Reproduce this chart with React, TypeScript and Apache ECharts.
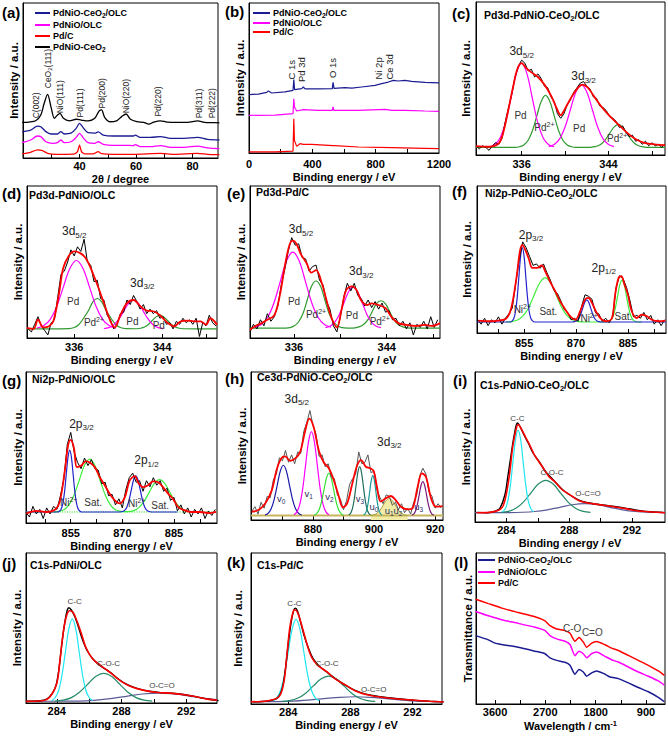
import React, { useEffect, useRef } from 'react';
import * as echarts from 'echarts';

const F = '"Liberation Sans", Arial, Helvetica, sans-serif';

// ---------------- (a) XRD ----------------
const xrdCeOlc = [[19.7,17],[22.7,18],[25.1,20.6],[26.3,20.2],[28.1,17],[29.9,15.5],[32.2,15.5],[33.4,17],[34.6,15.5],[37,16],[38.8,19.1],[40,22.4],[41.2,19.8],[43,16.3],[45.4,16],[46.6,16.8],[48.4,14.8],[51.9,14.2],[55.5,14.2],[59.1,14.2],[59.7,14.8],[61.5,13.3],[65.1,13.3],[68.6,13.8],[72.2,12.7],[77,12.7],[81.8,13.3],[85.3,12],[89.5,11.6]];
const xrdNiOlc = [[19.7,9.9],[22.7,11.6],[25.1,14.2],[26.3,13.8],[28.1,10.5],[30.5,9.5],[32.2,9.9],[33.4,11.6],[34.6,9.9],[37,10.5],[38.8,13.3],[40,15.9],[41.2,13.3],[43,9.9],[45.4,9.5],[46.6,10.5],[48.4,8.8],[51.9,8.2],[55.5,8.2],[59.1,8],[59.7,8.6],[61.5,7.3],[65.1,7.3],[68.6,8],[72.2,6.9],[77,6.9],[81.8,7.7],[85.3,6.5],[89.5,6]];
const xrdPdC = [[19.7,2.6],[22.7,3.7],[25.1,5.2],[26.9,4.7],[28.7,3],[31.7,2.4],[35.2,2.4],[38.2,2.6],[39.3,4.1],[40,8.4],[40.7,4.1],[41.8,2.6],[44.8,2.6],[46.6,4.1],[47.8,2.8],[51.9,2.4],[59.1,2.4],[68.6,3],[73.4,2.4],[81.8,3],[85.3,2.4],[89.5,2.2]];
const xrdCe = [[19.7,23],[22.1,23.2],[24.5,24],[26.3,27.7],[27.5,35.3],[28.7,41],[29.9,33],[31.1,25.6],[32.2,27.7],[33.1,28.8],[34.3,25.6],[36.4,24],[38.8,25],[40.6,24.5],[43,23.9],[45.4,25.6],[46.9,30.3],[47.8,31],[48.9,26.2],[50.7,23.4],[53.1,24],[54.9,26.7],[56.5,28.4],[57.9,25.2],[60.3,23.4],[62.7,23],[64.5,21.9],[66.3,23.2],[68.6,24],[71,23.2],[74.6,23],[78.2,23],[81.8,24],[84.2,23],[87.7,22.8],[89.5,22.6]];
const xrdPeakLabels = ['{r|C(002)}','{r|CeO}{rs|2}{r|(111)}','{r|NiO(111)}','{r|Pd(111)}','{r|Pd(200)}','{r|NiO(220)}','{r|Pd(220)}','{r|Pd(311)}','{r|Pd(222)}'];
const xrdPeakAt = [[24.5,25.6],[29,45],[33.1,28.8],[40.2,26.2],[47.8,32],[56.3,28.8],[67.7,26.7],[82.3,25.6],[86.7,25.6]];

// ---------------- (b) survey ----------------
const svCeOlc = [[0,38.9],[59,39.3],[112,40.4],[122,41.3],[143,40],[227,40.7],[278,41.8],[283,48.9],[288,42.2],[333,42.9],[343,44],[354,42.7],[438,42.7],[526,42.9],[531,47.1],[537,43.1],[606,43.6],[650,43.2],[711,44],[796,45.1],[838,46.2],[859,46.7],[880,47.3],[911,48.4],[943,48],[985,48.4],[1027,47.8],[1111,47.1],[1200,46.7]];
const svNiOlc = [[0,25.1],[164,25.3],[278,26.2],[283,36.2],[287,30.7],[301,28],[343,28.9],[438,28.4],[526,28.4],[531,30.7],[536,28.4],[691,28.4],[859,29.1],[901,28.4],[985,28.4],[1111,28],[1200,27.8]];
const svPdC = [[0,0.7],[164,0.7],[278,1.3],[283,22.9],[287,8.4],[301,4.4],[322,6.2],[343,5.8],[396,5.8],[531,4.9],[541,4.9],[691,4],[901,3.6],[1111,3.1],[1200,2.9]];
const svLabels = ['{r2|C 1s}','{r2|Pd 3d}','{r2|O 1s}','{r2|Ni 2p}','{r2|Ce 3d}'];
const svLabelAt = [[267,49],[334,47.3],[528,50],[821,49],[889,49]];

// ---------------- (c) Pd3d PdNiO-CeO2/OLC ----------------
const cFit = [[331.8,5.8],[332.9,5.4],[333.8,7],[334.2,12],[334.7,27],[335.2,44],[335.6,56],[336,60],[336.4,57],[336.9,54],[337.5,51],[338.1,46],[338.7,39],[339.2,31],[339.6,26],[339.9,29],[340.6,38],[341.2,44],[341.6,46],[342.1,44],[342.7,38],[343.3,32],[343.9,27],[344.6,22],[345.2,18],[345.8,14],[346.6,10],[347.3,8],[348.2,7],[349.2,6.5]];
const cRawStart = 331.8, cRawStep = 0.3;
const cRaw = [6,4,6,5,3,6,8,7,11,22,31,40,51,58,62,60,55,56,51,53,50,45,44,38,35,27,24,27,33,36,41,44,47,48,45,43,38,37,32,31,29,25,24,22,18,19,15,12,13,9,10,7,9,6,8,6,7,5,7];
const cPd1 = [[333,5.4],[333.5,6.7],[334,11],[334.5,20.8],[335,36.6],[335.5,52.9],[336,60],[336.5,52.9],[337,36.6],[337.5,20.8],[338,11],[338.5,6.7],[339,5.4]];
const cPd2 = [[338.5,5.5],[339,6.8],[339.5,10.5],[340,18.3],[340.5,29.9],[341,41.2],[341.5,46],[342,41.2],[342.5,29.9],[343,18.3],[343.5,10.5],[344,6.8],[344.5,5.5]];
const cPdII = [[331.8,5],[335.4,5],[335.8,5.4],[336.2,6.5],[336.6,9.6],[337,16],[337.4,25.6],[337.8,35],[338.2,39],[338.6,35],[339,25.6],[339.4,16],[339.8,9.6],[340.2,6.5],[340.6,5.4],[341,5],[342.1,5],[342.5,5.2],[342.9,5.7],[343.3,7],[343.7,9.9],[344.1,14.1],[344.5,18.2],[344.9,20],[345.3,18.2],[345.7,14.1],[346.1,9.9],[346.5,7],[346.9,5.7],[347.3,5.2],[347.7,5],[349.2,5]];
const cLabels = ['{m|3d}{ms|5/2}','{m|3d}{ms|3/2}','{c|Pd}','{c|Pd}{cu|2+}','{c|Pd}','{c|Pd}{cu|2+}'];
const cLabelAt = [[336,67.7],[341.7,51.6],[335.9,25.8],[338.1,18.3],[341.3,17],[344.8,10.8]];

// ---------------- (d) Pd3d PdNiO/OLC ----------------
const dFit = [[331.7,6.6],[332.3,6],[332.7,12],[333.2,7],[333.7,7.7],[334.1,11],[334.6,28.6],[335,46],[335.5,54],[336,57],[336.5,56],[337,53],[337.5,46],[338.1,35],[338.7,23],[339.3,11],[339.7,7],[340.2,15],[340.8,23],[341.4,25],[342,21],[342.6,18],[343.2,17.6],[343.8,15],[344.5,10],[345.1,7.7],[345.7,11],[346.3,11.4],[346.9,11],[347.5,11],[348,8.8],[348.4,13],[349,8.8]];
const dRawStart = 331.8, dRawStep = 0.3;
const dRaw = [6,4,9,14,8,5,2,10,12,27,42,44,50,58,54,60,57,65,50,48,37,38,26,25,15,12,6,9,16,17,25,22,28,24,19,22,16,19,16,18,13,14,9,10,6,11,9,13,10,12,9,13,1,10,8,15,10,8];
const dPd1 = [[332.6,6.5],[333.2,8],[333.8,12.1],[334.4,20.6],[335,33.3],[335.6,45.7],[336.2,51],[336.8,45.7],[337.4,33.3],[338,20.6],[338.6,12.1],[339.2,8],[339.8,6.5]];
const dPd2 = [[338.7,6.2],[339.15,6.8],[339.6,8.6],[340.05,12.2],[340.5,17.5],[340.95,22.8],[341.4,25],[341.85,22.8],[342.3,17.5],[342.75,12.2],[343.2,8.6],[343.65,6.8],[344.1,6.2]];
const dPdII = [[331.7,6],[335.5,6.2],[336,6.9],[336.4,8.7],[336.8,12.5],[337.3,18.1],[337.7,23.7],[338.1,26],[338.5,23.7],[338.9,18.1],[339.4,12.5],[339.8,8.7],[340.2,6.9],[340.7,6.2],[341.7,6.1],[342.05,6.4],[342.4,7.2],[342.75,8.9],[343.1,11.5],[343.45,13.9],[343.8,15],[344.15,13.9],[344.5,11.5],[344.85,8.9],[345.2,7.2],[345.55,6.4],[345.9,6.1],[349,6]];
const dLabels = ['{m|3d}{ms|5/2}','{m|3d}{ms|3/2}','{c|Pd}','{c|Pd}{cu|2+}','{c|Pd}','{c|Pd}'];
const dLabelAt = [[336,70.3],[342.2,36.3],[335.9,24],[337.8,9.9],[341.3,11],[343.7,8.4]];

// ---------------- (e) Pd3d Pd/C ----------------
const eFit = [[332.2,5.4],[332.7,8],[333.2,9.8],[333.7,12],[334.3,15],[334.8,29],[335.2,47],[335.6,61],[335.9,64],[336.2,62],[336.6,55],[337.1,49],[337.5,43],[337.9,44.6],[338.4,36],[338.8,25],[339.2,14],[339.7,7],[340.1,18.5],[340.5,31.5],[341,34],[341.4,31.5],[341.8,24.6],[342.3,21.7],[342.7,22.8],[343.3,21.7],[343.9,19.6],[344.4,14],[345,9.8],[345.7,8.7],[346.5,8],[347.3,8.7],[347.9,8],[348.6,9.8]];
const eRawStart = 332.2, eRawStep = 0.3;
const eRaw = [4,9,6,12,8,16,11,14,21,35,45,57,66,61,62,53,52,44,47,48,38,35,24,19,8,4,14,27,36,31,36,28,26,21,25,20,24,19,23,17,18,12,13,8,11,6,10,2,9,7,11,6,14,7,12];
const ePd1 = [[332.6,7.1],[333.15,8.7],[333.7,13.3],[334.25,22.7],[334.8,36.8],[335.35,50.6],[335.9,56.5],[336.45,50.6],[337,36.8],[337.55,22.7],[338.1,13.3],[338.65,8.7],[339.2,7.1]];
const ePd2 = [[338.7,6.8],[339.1,7.7],[339.5,10.2],[339.9,15.3],[340.3,22.9],[340.7,30.3],[341.1,33.5],[341.5,30.3],[341.9,22.9],[342.3,15.3],[342.7,10.2],[343.1,7.7],[343.5,6.8]];
const ePdII = [[332.2,6.5],[335.3,6.5],[335.65,6.8],[336,7.9],[336.4,10.7],[336.8,16.6],[337.15,25.3],[337.5,33.9],[337.9,37.5],[338.3,33.9],[338.65,25.3],[339,16.6],[339.4,10.7],[339.8,7.9],[340.15,6.8],[340.6,6.5],[340.9,6.5],[341.25,6.7],[341.6,7.3],[342,8.9],[342.4,12.3],[342.75,17.4],[343.1,22.4],[343.5,24.5],[343.9,22.4],[344.25,17.4],[344.6,12.3],[345,8.9],[345.4,7.3],[345.75,6.7],[346.2,6.5],[348.6,6.5]];
const eLabels = ['{m|3d}{ms|5/2}','{m|3d}{ms|3/2}','{c|Pd}','{c|Pd}{cu|2+}','{c|Pd}','{c|Pd}{cu|2+}'];
const eLabelAt = [[336.6,71.7],[341.8,44],[336,24],[337.9,15.2],[341,14.6],[343.4,10.9]];

// ---------------- (f) Ni2p PdNiO-CeO2/OLC ----------------
const fFit = [[841.8,8.4],[844.6,8],[847.5,8.4],[849.9,10],[851.3,17],[852.8,37.5],[853.8,55.7],[854.5,60],[855.3,56.8],[856.3,51],[857.4,44.3],[858.7,44.3],[860.1,46],[861.1,42],[862.5,35],[864,28.4],[865.4,21.6],[866.9,16],[868.3,11.4],[869.8,9],[871.2,14.8],[872.6,22.7],[873.6,23.9],[874.6,20.5],[876,13.6],[877.5,9],[878.9,8],[880.4,10.2],[881.3,26],[882.3,37.5],[883.1,38.6],[884,33],[885,26],[886.1,14.8],[887.6,10.2],[889,12.5],[890.5,11.4],[891.9,9],[893.9,8],[895.8,8.4]];
const fRawStart = 841.6, fRawStep = 1;
const fRaw = [9,6,10,5,9,7,11,6,10,13,17,34,50,62,58,52,46,47,44,47,41,36,29,27,22,16,14,9,10,8,18,26,25,23,14,13,8,10,7,11,31,39,37,31,22,11,12,10,14,9,12,6,9,5,9];
const fNi = [[841.4,7.5],[851,7.5],[851.5,8.1],[852,9.7],[852.5,14.3],[853,23.9],[853.5,38.1],[854,52.1],[854.5,58],[855,52.1],[855.5,38.1],[856,23.9],[856.5,14.3],[857,9.7],[857.5,8.1],[858,7.5],[869,7.5],[869.5,7.7],[870.1,8.2],[870.7,9.5],[871.3,12.4],[871.9,16.6],[872.5,20.7],[873.1,22.5],[873.7,20.7],[874.3,16.6],[874.9,12.4],[875.5,9.5],[876.1,8.2],[876.7,7.7],[877.2,7.5],[896,7.5]];
const fSat = [[849.9,7.5],[851.5,7.8],[853.1,8.8],[854.7,11.6],[856.3,17.2],[857.9,25.7],[859.5,34],[861.1,37.5],[862.7,34],[864.3,25.7],[865.9,17.2],[867.5,11.6],[869.1,8.8],[870.7,7.8],[872.3,7.5],[878.8,7.5],[879.4,7.8],[880.05,8.8],[880.7,11.4],[881.35,16.8],[882,24.8],[882.65,32.7],[883.3,36],[883.95,32.7],[884.6,24.8],[885.25,16.8],[885.9,11.4],[886.55,8.8],[887.2,7.8],[887.8,7.5],[889,7.5]];
const fLabels = ['{m|2p}{ms|3/2}','{m|2p}{ms|1/2}','{c|Ni}{cu|2+}','{c|Sat.}','{c|Ni}{cu|2+}','{c|Sat.}'];
const fLabelAt = [[857,67],[878,44.3],[854.5,15.9],[862,14.3],[873.8,10.2],[883.7,11.4]];

// ---------------- (g) Ni2p PdNiO/OLC ----------------
const gFit = [[842.1,6.2],[845,8],[847.9,7.3],[850.4,8.8],[851.8,14],[853.3,35],[854.2,51],[854.9,55],[855.9,50],[856.8,37],[858.1,38],[859.4,41],[860.5,40],[862,37],[863.4,30.5],[864.9,25],[866.3,19.4],[867.8,15],[869.2,13],[870.7,17],[872.1,28],[873.6,31],[874.8,26],[876,23.8],[877.5,25],[878.9,27.6],[880.4,27],[881.8,23.8],[883.3,19.4],[884.7,16],[886.2,10.6],[887.6,8.8],[890,7.3],[892.5,7.3],[895.4,6.6],[897.3,7.3]];
const gRawStart = 842, gRawStep = 1;
const gRaw = [7,4,11,6,9,3,10,6,11,9,18,29,52,60,47,40,36,43,38,42,36,35,26,27,18,19,12,16,10,22,30,33,27,28,21,28,24,30,25,28,21,23,15,17,8,12,6,10,4,9,6,10,3,8,5,9];
const gNi = [[842,7.3],[851.2,7.3],[851.7,7.8],[852.2,9.1],[852.7,12.8],[853.2,20.6],[853.7,32.2],[854.2,43.5],[854.7,48.3],[855.2,43.5],[855.7,32.2],[856.2,20.6],[856.7,12.8],[857.2,9.1],[857.7,7.8],[858.2,7.3],[869.4,7.3],[870,7.6],[870.65,8.4],[871.3,10.5],[871.95,15.1],[872.6,21.9],[873.25,28.5],[873.9,31.3],[874.55,28.5],[875.2,21.9],[875.85,15.1],[876.5,10.5],[877.15,8.4],[877.8,7.6],[878.4,7.3],[886,7.3]];
const gSat = [[850,7.3],[851.5,7.7],[853,8.8],[854.5,12],[856,18.7],[857.5,28.5],[859,38.2],[860.5,42.3],[862,38.2],[863.5,28.5],[865,18.7],[866.5,12],[868,8.8],[869.5,7.7],[870.3,7.5],[871.8,7.5],[873.3,8.2],[874.8,10.2],[876.3,14.3],[877.8,20.3],[879.3,26.2],[880.8,28.7],[882.3,26.2],[883.8,20.3],[885.3,14.3],[886.8,10.2],[888.3,8.2],[889.8,7.5]];
const gBase = [[842,7.3],[897.5,7.3]];
const gLabels = ['{m|2p}{ms|3/2}','{m|2p}{ms|1/2}','{c|Ni}{cu|2+}','{c|Sat.}','{c|Ni}{cu|2+}','{c|Sat.}'];
const gLabelAt = [[858.1,65.8],[877,41.5],[854.4,13.9],[861.5,13.9],[874.2,12.8],[881,11.7]];

// ---------------- (h) Ce3d ----------------
const hFit = [[859.9,5.6],[862.1,6.7],[864.3,11],[866.5,20],[868.1,34],[869.6,41.6],[870.9,43],[872.5,40],[874.2,41.6],[875.8,46],[877.5,60.7],[878.8,68.5],[880.2,63],[881.9,47],[883.5,39],[885.2,35],[886.8,27],[888.5,15.7],[889.8,8.5],[891.2,11.2],[892.9,24.7],[894.5,37],[895.8,40.4],[897.3,36],[898.7,35],[899.9,33],[901,22],[902.2,12.4],[903.8,14.6],[905.5,16.2],[907.1,13.5],[908.8,9],[911,7.2],[912.6,7.9],[914.3,22.5],[915.7,31.5],[917,29.2],[918.7,14.6],[920.3,9],[922.5,9.4]];
const hRawStart = 860, hRawStep = 1;
const hRaw = [6,9,4,12,8,16,15,27,31,42,40,47,39,44,38,46,45,60,66,74,64,58,43,44,36,38,29,28,17,14,7,13,24,28,31,46,38,39,44,32,33,20,15,11,17,16,10,12,7,11,5,8,4,12,17,30,35,31,19,16,8,11,8];
const hV0 = [[864.3,3.4],[865.3,4.5],[866.3,7.6],[867.3,14],[868.3,23.6],[869.3,33],[870.3,37],[871.3,33],[872.3,23.6],[873.3,14],[874.3,7.6],[875.3,4.5],[876.3,3.4]];
const hV1 = [[873.8,3.6],[874.75,5.5],[875.7,10.7],[876.65,21.4],[877.6,37.4],[878.55,53],[879.5,59.7],[880.45,53],[881.4,37.4],[882.35,21.4],[883.3,10.7],[884.25,5.5],[885.2,3.6]];
const hV2 = [[880.4,3.3],[881.2,4.3],[882,6.9],[882.8,12.3],[883.6,20.3],[884.4,28.2],[885.2,31.6],[886,28.2],[886.8,20.3],[887.6,12.3],[888.4,6.9],[889.2,4.3],[890,3.3]];
const hV3 = [[891.7,3.4],[892.3,4.4],[892.9,7.5],[893.5,13.7],[894.1,23],[894.7,32.1],[895.3,36],[895.9,32.1],[896.5,23],[897.1,13.7],[897.7,7.5],[898.3,4.4],[898.9,3.4]];
const hU0 = [[896.6,3.3],[897.1,4.2],[897.6,6.7],[898.1,11.8],[898.6,19.4],[899.1,26.8],[899.6,30],[900.1,26.8],[900.6,19.4],[901.1,11.8],[901.6,6.7],[902.1,4.2],[902.6,3.3]];
const hU12 = [[899,3.1],[900,3.5],[901,4.6],[902,6.7],[903,10],[904,13.1],[905,14.5],[906,13.1],[907,10],[908,6.7],[909,4.6],[910,3.5],[911,3.1]];
const hU3 = [[912.4,3.3],[913,4],[913.6,6.1],[914.2,10.5],[914.8,17],[915.4,23.3],[916,26],[916.6,23.3],[917.2,17],[917.8,10.5],[918.4,6.1],[919,4],[919.6,3.3]];
const hBase = [[859.7,3],[922.6,3]];
const hLabels = ['{m|3d}{ms|5/2}','{m|3d}{ms|3/2}','{v|v}{vs|0}','{v|v}{vs|1}','{v|v}{vs|2}','{v|v}{vs|3}','{v|u}{vs|0}','{v|u}{vs|1}{v|u}{vs|2}','{v|u}{vs|3}'];
const hLabelAt = [[874.7,82],[905,52.8],[869.6,14.6],[878.6,18],[885.4,15.7],[895.4,14.6],[900,9],[906.4,6.7],[914.6,9]];

// ---------------- (i) C1s PdNiO-CeO2/OLC ----------------
const iFit = [[282.1,6.2],[282.9,6.4],[283.5,7.8],[283.8,11],[284,19],[284.2,32],[284.4,50],[284.6,61],[284.74,65],[284.9,63],[285.2,57],[285.5,51],[285.8,44.4],[286.3,36.7],[286.7,30.4],[287.1,26.7],[287.5,22],[288.1,17.8],[288.6,14.4],[289.2,12.7],[289.9,11.6],[290.7,10.4],[291.6,8.9],[292.4,7.3],[293.3,6.7],[294.1,6.2]];
const iRaw = [[282.1,6.4],[282.8,6.2],[283.3,7.2],[283.6,9.5],[283.9,18],[284.1,31],[284.3,45],[284.5,58],[284.7,66],[284.85,64],[285.1,58.5],[285.4,52.5],[285.7,46],[286.1,40],[286.5,33.5],[286.9,29],[287.3,24.5],[287.7,20.5],[288.2,17],[288.7,14.2],[289.2,12.8],[289.8,11.8],[290.5,10.8],[291.2,9.8],[291.8,8.8],[292.5,7.6],[293.2,6.8],[294,6.3]];
const iCC = [[283.75,6.8],[283.92,8.6],[284.08,13.6],[284.25,24.1],[284.41,39.6],[284.58,54.7],[284.74,61.2],[284.91,54.7],[285.07,39.6],[285.24,24.1],[285.4,13.6],[285.57,8.6],[285.73,6.8]];
const iCOC = [[283.65,6.4],[284.13,7.1],[284.6,9.1],[285.08,13.2],[285.55,19.3],[286.03,25.3],[286.5,27.8],[286.98,25.3],[287.45,19.3],[287.93,13.2],[288.4,9.1],[288.88,7.1],[289.35,6.4]];
const iOCO = [[282,6.2],[284.2,6.3],[285,6.5],[285.8,7],[286.6,8.1],[287.4,9.8],[288.2,11.5],[289,12.2],[289.8,11.5],[290.6,9.8],[291.4,8.1],[292.2,7],[293,6.5],[294.1,6.3]];
const iLabelAt = [[284.7,69],[286.9,33],[289.2,19]];

// ---------------- (j) C1s PdNi/OLC ----------------
const jFit = [[282.1,1.1],[283.1,1.5],[283.6,4.4],[284,13],[284.2,28.6],[284.4,47],[284.6,58],[284.8,61.5],[285,60.5],[285.2,56],[285.5,47],[285.8,37],[286.2,29.7],[286.7,25],[287.1,22],[287.6,17.6],[288.1,13.6],[288.7,10.5],[289.4,8.4],[290.2,7],[291,6.6],[291.9,5.5],[292.7,4],[293.3,2.6],[293.9,1.8]];
const jRaw = [[282.1,1.2],[283,1.5],[283.5,3.5],[283.9,10],[284.1,20],[284.3,38],[284.5,54],[284.65,62],[284.75,63.5],[284.9,62],[285.1,58],[285.3,52],[285.6,42],[285.9,34.5],[286.3,28.5],[286.8,24],[287.3,20.5],[287.8,16],[288.4,12],[289,9.6],[289.7,7.8],[290.5,6.9],[291.3,6.3],[292.2,5],[292.9,3.5],[293.5,2.3],[294,1.6]];
const jCC = [[283.7,1.7],[283.9,3.5],[284.12,8.5],[284.33,19],[284.54,34.5],[284.75,49.6],[284.96,56.1],[285.17,49.6],[285.38,34.5],[285.59,19],[285.8,8.5],[286.01,3.5],[286.22,1.7]];
const jCOC = [[283.9,1.3],[284.4,1.9],[284.9,3.6],[285.4,7.2],[285.9,12.4],[286.4,17.6],[286.9,19.8],[287.4,17.6],[287.9,12.4],[288.4,7.2],[288.9,3.6],[289.4,1.9],[289.9,1.3]];
const jOCO = [[282.1,1.1],[284.3,1.2],[285.3,1.3],[286.3,1.8],[287.3,2.9],[288.3,4.4],[289.3,6],[290.3,6.6],[291.3,6],[292.3,4.4],[293.3,2.9],[293.9,2.2]];
const jLabelAt = [[285.1,68],[287.2,26.5],[290.5,11.4]];

// ---------------- (k) C1s Pd/C ----------------
const kFit = [[281.6,1.5],[282.7,2.2],[283.4,4.8],[283.7,13.6],[283.9,31],[284.1,50.8],[284.3,60.6],[284.4,62.4],[284.6,60.6],[284.9,50.8],[285.2,39.8],[285.5,31],[285.9,25.6],[286.5,21.2],[287,16.8],[287.7,12.5],[288.3,8.8],[289,6.3],[289.8,4.8],[290.9,3.5],[292,2.6],[293.1,1.8],[294,1.3]];
const kRaw = [[281.7,1.5],[282.7,2],[283.3,4],[283.6,10],[283.8,22],[284,40],[284.2,55],[284.35,62],[284.45,63.5],[284.6,61.5],[284.8,54],[285,46],[285.3,37],[285.6,30],[286,25],[286.5,21],[287,17],[287.6,13],[288.3,9],[289,6.5],[289.8,5],[290.9,3.6],[292,2.6],[293.1,1.9],[294,1.4]];
const kCC = [[283,2.1],[283.25,3.9],[283.5,8.9],[283.75,19.2],[284,34.6],[284.25,49.6],[284.5,56],[284.75,49.6],[285,34.6],[285.25,19.2],[285.5,8.9],[285.75,3.9],[286,2.1]];
const kCOC = [[283.6,1.7],[284.1,2.2],[284.6,3.8],[285.1,7],[285.6,11.8],[286.1,16.5],[286.6,18.5],[287.1,16.5],[287.6,11.8],[288.1,7],[288.6,3.8],[289.1,2.2],[289.6,1.7]];
const kOCO = [[281.6,1.5],[282.3,1.5],[283.3,1.6],[284.3,1.9],[285.3,2.6],[286.3,3.5],[287.3,4.4],[288.3,4.8],[289.3,4.4],[290.3,3.5],[291.3,2.6],[292.3,1.9],[293.3,1.6],[294,1.5]];
const kLabelAt = [[284.4,66.5],[286.5,26.7],[289.5,9.6]];
const c1sLabels = ['{k|C-C}','{k|C-O-C}','{k|O-C=O}'];

// ---------------- (l) FTIR ----------------
const irPdC = [[3946,69.4],[3719,66.5],[3481,63.5],[3183,60.6],[2885,57.8],[2706,55.1],[2617,51.9],[2497,49.7],[2348,48.6],[2259,46.8],[2170,41.6],[2098,44],[2021,41],[1961,37.6],[1872,40.3],[1782,41.4],[1633,39.2],[1514,37],[1395,35.4],[1216,32.2],[1037,28.9],[858,25.6],[680,21.9],[572,19]];
const irNiOlc = [[3946,61.3],[3719,58.4],[3481,55.8],[3183,53.4],[2885,50.8],[2706,48.6],[2617,45.3],[2497,43.1],[2348,41.6],[2259,39.4],[2170,32],[2098,35],[2021,33.3],[1961,30.6],[1872,33.3],[1782,34.4],[1633,31.5],[1514,29.3],[1395,27.8],[1216,24.5],[1037,21.2],[858,18.4],[680,15.3],[572,12.5]];
const irCeOlc = [[3946,45.3],[3719,42.5],[3600,40.3],[3481,39.4],[3183,37.6],[2885,35],[2706,33.3],[2617,30.6],[2497,28.9],[2348,27.6],[2259,25.6],[2170,19.7],[2098,22.8],[2021,21.2],[1961,18.4],[1872,20.6],[1782,21.9],[1633,19.7],[1544,17.9],[1395,16.8],[1216,14],[1037,10.9],[858,8.1],[680,4.4],[572,1.5]];
const irLabels = ['{l|C-O}','{l|C=O}'];
const irLabelAt = [[2220,50.3],[1860,47.6]];

// ---------------- layout ----------------
const GRIDS = [
  [23, 3, 195, 155], [249, 3, 190, 150], [476, 2, 189, 153],
  [27, 186, 190, 152], [250, 186, 190, 152], [477, 186, 189, 147],
  [26, 372, 191, 151], [251, 372, 192, 148], [475, 372, 190, 150],
  [26, 553, 191, 150], [251, 553, 191, 151], [476, 553, 189, 151],
];
const BE = 'Binding energy / eV';
const PdT = [336, 340, 344, 348], PdL = [336, 344];
const NiT = [847.5, 855, 862.5, 870, 877.5, 885, 892.5], NiL = [855, 870, 885];
const CT = [284, 286, 288, 290, 292], CL = [284, 288, 292];
const AX: any[] = [
  { min: 20, max: 89, ticks: [30, 40, 50, 60, 70, 80], labels: [40, 60, 80], name: '2θ / degree', margin: 2, gap: 15 },
  { min: 0, max: 1200, ticks: [200, 400, 600, 800, 1000], labels: [0, 400, 800, 1200], name: BE, margin: 5, gap: 18 },
  { min: 331.8, max: 349.2, ticks: PdT, labels: PdL, name: BE, margin: 3, gap: 16 },
  { min: 331.7, max: 349, ticks: PdT, labels: PdL, name: BE, margin: 3, gap: 16 },
  { min: 332.2, max: 348.6, ticks: PdT, labels: PdL, name: BE, margin: 3, gap: 16 },
  { min: 841.4, max: 896, ticks: NiT, labels: NiL, name: BE, margin: 4, gap: 17 },
  { min: 842, max: 897.5, ticks: NiT, labels: NiL, name: BE, margin: 4, gap: 17 },
  { min: 859.7, max: 922.6, ticks: [870, 880, 890, 900, 910, 920], labels: [880, 900, 920], name: BE, margin: 3, gap: 16 },
  { min: 282, max: 294.1, ticks: CT, labels: CL, name: BE, margin: 2, gap: 15 },
  { min: 282.1, max: 293.9, ticks: CT, labels: CL, name: BE, margin: 2, gap: 15 },
  { min: 281.6, max: 293.9, ticks: CT, labels: CL, name: BE, margin: 2, gap: 15 },
  { min: 560, max: 3940, inverse: true, ticks: [3600, 3150, 2700, 2250, 1800, 1350, 900], labels: [3600, 2700, 1800, 900], name: '{n|Wavelength / cm}{sup|-1}', margin: 2, gap: 15 },
];
const YNAMES = ['Intensity / a.u.', 'Intensity / a.u.', 'Intensity / a.u.', 'Intensity / a.u.', 'Intensity / a.u.', 'Intensity / a.u.', 'Intensity / a.u.', 'Intensity / a.u.', 'Intensity / a.u.', 'Intensity / a.u.', 'Intensity / a.u.', 'Transmittance / a.u.'];
const YGAP = [3, 3, 4, 3, 3, 4, 2, 3, 3, 3, 7, 2];

// colours
const BLUE = '#1c1c92', MAG = '#ff00ff', RED = '#ff0000', BLACK = '#000000';
const PDGREEN = '#2f9a2f', NIBLUE = '#2323cc', NIGREEN = '#3cee3c';
const CYAN = '#1ee6f0', TEAL = '#238a66', SLATE = '#5a5a96';

const rst = (o: any) => ({ fontFamily: F, ...o, fill: o.color });
const RICH: any = {
  t: rst({ fontWeight: 'bold', fontSize: 10.5, color: '#000', lineHeight: 14 }),
  ts: rst({ fontWeight: 'bold', fontSize: 7.5, color: '#000', verticalAlign: 'bottom' }),
  g: rst({ fontWeight: 'bold', fontSize: 9, color: '#000', lineHeight: 12 }),
  gs: rst({ fontWeight: 'bold', fontSize: 6.5, color: '#000', verticalAlign: 'bottom' }),
  m: rst({ fontSize: 12, color: '#222', lineHeight: 16 }),
  ms: rst({ fontSize: 8, color: '#222', verticalAlign: 'bottom' }),
  c: rst({ fontSize: 10, color: '#333', lineHeight: 13 }),
  cu: rst({ fontSize: 7, color: '#333', verticalAlign: 'top' }),
  v: rst({ fontSize: 9.5, color: '#2e2e5e', lineHeight: 13 }),
  vs: rst({ fontSize: 6.5, color: '#2e2e5e', verticalAlign: 'bottom' }),
  k: rst({ fontSize: 8, color: '#444' }),
  r: rst({ fontSize: 8.5, color: '#222', lineHeight: 10 }),
  rs: rst({ fontSize: 6, color: '#222', verticalAlign: 'bottom' }),
  r2: rst({ fontSize: 9.5, color: '#222', lineHeight: 10 }),
  l: rst({ fontSize: 10, color: '#444' }),
  P: rst({ fontWeight: 'bold', fontSize: 15, color: '#000' }),
};

const rp = (start: number, step: number, vals: number[]) => vals.map((v, i) => [Math.round((start + step * i) * 100) / 100, v]);

function ln(g: number, data: any[], color: string, width: number, smooth: any = false, extra: any = {}) {
  return {
    type: 'line', xAxisIndex: g, yAxisIndex: g, data, symbol: 'none', showSymbol: false, smooth,
    silent: true, animation: false, lineStyle: { color, width, ...(extra.ls || {}) }, itemStyle: { color },
    ...(extra.area ? { areaStyle: extra.area } : {}),
  };
}

function buildOption() {
  const axName = { fontFamily: F, fontWeight: 'bold', fontSize: 11, color: '#000' };
  const grid = GRIDS.map(([l, t, w, h]) => ({
    left: l, top: t, width: w, height: h, show: true, borderColor: '#000', borderWidth: 1,
    backgroundColor: 'transparent', containLabel: false, outerBoundsMode: 'none',
  }));
  const xAxis = AX.map((a, i) => ({
    type: 'value', gridIndex: i, min: a.min, max: a.max, inverse: !!a.inverse,
    name: a.name, nameLocation: 'middle', nameGap: a.gap, nameMoveOverlap: false,
    nameTextStyle: { ...axName, rich: { n: { ...axName, lineHeight: 14 }, sup: { ...axName, fontSize: 7.5, verticalAlign: 'top' } } },
    axisLine: { show: true, onZero: false, lineStyle: { color: '#000', width: 1 } },
    axisTick: { show: true, inside: true, length: 4, customValues: a.ticks, lineStyle: { color: '#000', width: 1 } },
    minorTick: { show: false },
    axisLabel: { show: true, customValues: a.labels, margin: a.margin, formatter: (v: number) => String(v), fontFamily: F, fontWeight: 'bold', fontSize: 11, color: '#000' },
    splitLine: { show: false },
  }));
  const yAxis = GRIDS.map((_, i) => ({
    type: 'value', gridIndex: i, min: 0, max: 100,
    name: YNAMES[i], nameLocation: 'middle', nameGap: YGAP[i], nameMoveOverlap: false,
    nameTextStyle: { fontFamily: F, fontWeight: 'bold', fontSize: 11.5, color: '#000' },
    axisLine: { show: true, onZero: false, lineStyle: { color: '#000', width: 1 } },
    axisTick: { show: false }, axisLabel: { show: false }, splitLine: { show: false },
  }));
  const S = 0.35;
  const series: any[] = [
    // (a)
    ln(0, xrdCe, BLACK, 1.3, 0.3), ln(0, xrdCeOlc, BLUE, 1.3, 0.3), ln(0, xrdNiOlc, MAG, 1.3, 0.3), ln(0, xrdPdC, RED, 1.3, 0.15),
    // (b)
    ln(1, svCeOlc, BLUE, 1.2), ln(1, svNiOlc, MAG, 1.2), ln(1, svPdC, RED, 1.2),
    // (c)
    ln(2, cPdII, PDGREEN, 1.2, S), ln(2, cPd1, MAG, 1.2, S), ln(2, cPd2, MAG, 1.2, S), ln(2, rp(cRawStart, cRawStep, cRaw), BLACK, 1), ln(2, cFit, RED, 1.8, S),
    // (d)
    ln(3, dPdII, PDGREEN, 1.2, S), ln(3, dPd1, MAG, 1.2, S), ln(3, dPd2, MAG, 1.2, S), ln(3, rp(dRawStart, dRawStep, dRaw), BLACK, 1), ln(3, dFit, RED, 1.8, S),
    // (e)
    ln(4, ePdII, PDGREEN, 1.2, S), ln(4, ePd1, MAG, 1.2, S), ln(4, ePd2, MAG, 1.2, S), ln(4, rp(eRawStart, eRawStep, eRaw), BLACK, 1), ln(4, eFit, RED, 1.8, S),
    // (f)
    ln(5, fSat, NIGREEN, 1.2, S), ln(5, fNi, NIBLUE, 1.2, S), ln(5, rp(fRawStart, fRawStep, fRaw), BLACK, 1), ln(5, fFit, RED, 1.8, S),
    // (g)
    ln(6, gBase, NIGREEN, 1.2, false, { ls: { type: 'dotted' } }), ln(6, gSat, NIGREEN, 1.2, S), ln(6, gNi, NIBLUE, 1.2, S), ln(6, rp(gRawStart, gRawStep, gRaw), BLACK, 1), ln(6, gFit, RED, 1.8, S),
    // (h)
    ln(7, hBase, '#c8b45a', 2), ln(7, hU12, '#a89f3e', 1, S, { area: { color: '#f1eca8', opacity: 1 } }),
    ln(7, hV0, '#1a1aa8', 1.2, S), ln(7, hV1, MAG, 1.2, S), ln(7, hV2, '#33e033', 1.2, S), ln(7, hV3, '#1d6b58', 1.2, S), ln(7, hU0, '#1a9a96', 1.2, S), ln(7, hU3, '#7a1a7a', 1.2, S),
    ln(7, rp(hRawStart, hRawStep, hRaw), '#555555', 1), ln(7, hFit, RED, 1.8, S),
    // (i)
    ln(8, iOCO, SLATE, 1.2, S), ln(8, iCOC, TEAL, 1.2, S), ln(8, iCC, CYAN, 1.2, S), ln(8, iRaw, BLACK, 1.4, S), ln(8, iFit, RED, 1.6, S),
    // (j)
    ln(9, jOCO, SLATE, 1.2, S), ln(9, jCOC, TEAL, 1.2, S), ln(9, jCC, CYAN, 1.2, S), ln(9, jRaw, BLACK, 1.4, S), ln(9, jFit, RED, 1.6, S),
    // (k)
    ln(10, kOCO, SLATE, 1.2, S), ln(10, kCOC, TEAL, 1.2, S), ln(10, kCC, CYAN, 1.2, S), ln(10, kRaw, BLACK, 1.4, S), ln(10, kFit, RED, 1.6, S),
    // (l)
    ln(11, irCeOlc, BLUE, 1.5, 0.2), ln(11, irNiOlc, MAG, 1.5, 0.2), ln(11, irPdC, RED, 1.5, 0.2),
  ];
  return { animation: false, backgroundColor: '#fff', grid, xAxis, yAxis, series };
}

function txt(x: number, y: number, text: string, align = 'center', rot = 0) {
  return {
    type: 'text', x, y, rotation: rot, silent: true, z: 100,
    style: { text, rich: RICH, align, verticalAlign: 'middle', textAlign: align, textVerticalAlign: 'middle' },
  };
}

function staticEls() {
  const els: any[] = [];
  const letters: any[] = [['(a)', 2, 12], ['(b)', 225, 11], ['(c)', 452, 13], ['(d)', 2, 193], ['(e)', 227, 193], ['(f)', 452, 191], ['(g)', 2, 380], ['(h)', 225, 378], ['(i)', 453, 380], ['(j)', 2, 563], ['(k)', 227, 562], ['(l)', 454, 562]];
  letters.forEach(([t, x, y]) => els.push(txt(x, y, `{P|${t}}`, 'left')));
  const titles: any[] = [
    ['{t|Pd3d-PdNiO-CeO}{ts|2}{t|/OLC}', 484, 15], ['{t|Pd3d-PdNiO/OLC}', 29, 195], ['{t|Pd3d-Pd/C}', 256, 192],
    ['{t|Ni2p-PdNiO-CeO}{ts|2}{t|/OLC}', 485, 193], ['{t|Ni2p-PdNiO/OLC}', 32, 379], ['{t|Ce3d-PdNiO-CeO}{ts|2}{t|/OLC}', 257, 377],
    ['{t|C1s-PdNiO-CeO}{ts|2}{t|/OLC}', 480, 385], ['{t|C1s-PdNi/OLC}', 30, 565], ['{t|C1s-Pd/C}', 257, 565],
  ];
  titles.forEach(([t, x, y]) => els.push(txt(x, y, t, 'left')));
  const legName = ['{g|PdNiO-CeO}{gs|2}{g|/OLC}', '{g|PdNiO/OLC}', '{g|Pd/C}', '{g|PdNiO-CeO}{gs|2}'];
  const legCol = [BLUE, MAG, RED, BLACK];
  const legends: any[] = [
    [35, 50, 53, [13, 25, 36, 47], 4],
    [253, 270, 273, [13, 23, 32], 3],
    [478, 495, 498, [560, 572, 583], 3],
  ];
  legends.forEach(([x1, x2, tx, ys, n]) => {
    for (let i = 0; i < n; i++) {
      els.push({ type: 'line', silent: true, z: 100, shape: { x1, y1: ys[i], x2, y2: ys[i] }, style: { stroke: legCol[i], lineWidth: 2 } });
      els.push(txt(tx, ys[i], legName[i], 'left'));
    }
  });
  return els;
}

function dataEls(chart: any) {
  const els: any[] = [];
  const put = (g: number, labels: string[], at: number[][], rot = 0, align = 'center') => {
    labels.forEach((t, i) => {
      const p = chart.convertToPixel({ xAxisIndex: g, yAxisIndex: g }, at[i]);
      if (p) els.push(txt(p[0], p[1], t, align, rot));
    });
  };
  put(0, xrdPeakLabels, xrdPeakAt, Math.PI / 2, 'left');
  put(1, svLabels, svLabelAt, Math.PI / 2, 'left');
  put(2, cLabels, cLabelAt);
  put(3, dLabels, dLabelAt);
  put(4, eLabels, eLabelAt);
  put(5, fLabels, fLabelAt);
  put(6, gLabels, gLabelAt);
  put(7, hLabels, hLabelAt);
  put(8, c1sLabels, iLabelAt);
  put(9, c1sLabels, jLabelAt);
  put(10, c1sLabels, kLabelAt);
  put(11, irLabels, irLabelAt);
  return els;
}

export default function App() {
  const ref = useRef<HTMLDivElement>(null);
  useEffect(() => {
    document.body.style.margin = '0';
    const chart = echarts.init(ref.current as HTMLDivElement, null, { renderer: 'svg' });
    chart.setOption(buildOption() as any);
    const els = [...staticEls(), ...dataEls(chart)];
    chart.setOption({ graphic: { elements: els } } as any);
    return () => chart.dispose();
  }, []);
  return <div ref={ref} style={{ width: 668, height: 736 }} />;
}
